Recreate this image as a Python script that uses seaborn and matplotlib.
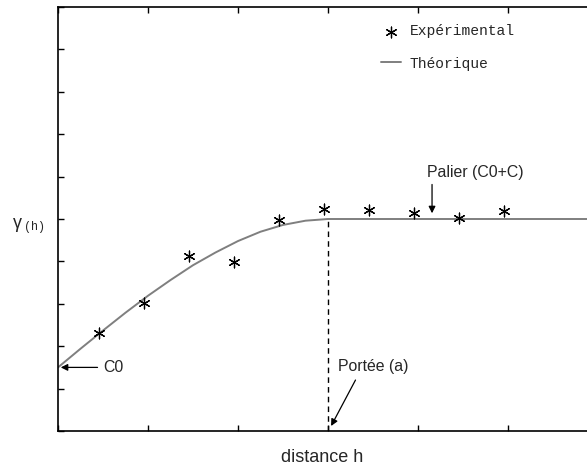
import numpy as np
import pandas as pd
import matplotlib
matplotlib.use("Agg")
import matplotlib.pyplot as plt
import seaborn as sns

# ==============================
# DATA
# ==============================
exp_h = [0.45, 0.95, 1.45, 1.95, 2.45, 2.95, 3.45, 3.95, 4.45, 4.95]
exp_gamma = [2.30, 3.03, 4.12, 3.98, 4.98, 5.24, 5.21, 5.14, 5.02, 5.19]

theo_h = [0.0, 0.25, 0.5, 0.75, 1.0, 1.25, 1.5, 1.75, 2.0, 2.25, 2.5, 2.75, 3.0, 6.0]
theo_gamma = [1.50, 1.94, 2.37, 2.79, 3.19, 3.56, 3.91, 4.21, 4.48, 4.70, 4.86, 4.96, 5.00, 5.00]

c0 = 1.5
sill = 5.0
range_a = 3.0

exp_df = pd.DataFrame({"h": exp_h, "gamma": exp_gamma})
theo_df = pd.DataFrame({"h": theo_h, "gamma": theo_gamma})

# ==============================
# STYLE
# ==============================
sns.set_style("white")
plt.rcParams["font.family"] = ["Liberation Sans", "DejaVu Sans"]
mono = ["Liberation Mono", "DejaVu Sans Mono"]

fig = plt.figure(figsize=(5.87, 4.66), dpi=100)
ax = fig.add_axes([58 / 587, 1 - 431 / 466, 1 - 58 / 587, 424 / 466])

# ==============================
# PLOT
# ==============================
sns.lineplot(data=theo_df, x="h", y="gamma", ax=ax, color="#7f7f7f",
             linewidth=1.4, label="Théorique")
sns.scatterplot(data=exp_df, x="h", y="gamma", ax=ax, marker=(6, 2, 0),
                s=60, color="black", linewidth=0.9, label="Expérimental",
                zorder=3)

# dashed vertical at the range
ax.plot([range_a, range_a], [0, sill], color="black", linestyle=(0, (4, 3)),
        linewidth=1.0)

ax.set_xlim(0, 529 / 90)
ax.set_ylim(0, 10)
ax.set_xticks(np.arange(0, 6, 1))
ax.set_yticks(np.arange(0, 11, 1))
ax.tick_params(which="both", direction="in", length=4, width=1, color="black",
               top=True, bottom=True, left=True, right=False,
               labelbottom=False, labelleft=False)
for side in ["left", "bottom", "top"]:
    ax.spines[side].set_color("black")
    ax.spines[side].set_linewidth(1.2)
ax.spines["right"].set_visible(False)

ax.set_xlabel("distance h", fontsize=13, labelpad=13)
ax.set_ylabel("")

# y label: gamma(h)
ax.text(-0.085, 0.49, "γ", transform=ax.transAxes, fontsize=13,
        ha="left", va="center")
ax.text(-0.064, 0.482, "(h)", transform=ax.transAxes, fontsize=8.5,
        family=mono, ha="left", va="center")

# legend
handles, labels = ax.get_legend_handles_labels()
leg = ax.legend(handles[::-1], labels[::-1], loc="upper left",
                bbox_to_anchor=(0.585, 0.99), frameon=False,
                prop={"family": mono, "size": 10.5},
                handlelength=1.4, handletextpad=0.6, labelspacing=1.25)

# annotations
fs = 11.4
arrow = dict(arrowstyle="-|>", color="black", lw=0.9, mutation_scale=10)
ax.annotate("", xy=(0, c0), xytext=(0.47, c0), arrowprops=arrow)
ax.text(0.5, c0, "C0", fontsize=fs, va="center", ha="left")

ax.annotate("", xy=(4.156, sill + 0.07), xytext=(4.156, 5.88), arrowprops=arrow)
ax.text(4.1, 5.92, "Palier (C0+C)", fontsize=fs, va="bottom", ha="left")

ax.annotate("", xy=(range_a + 0.02, 0.06), xytext=(3.32, 1.26), arrowprops=arrow)
ax.text(3.11, 1.52, "Portée (a)", fontsize=fs, va="center", ha="left")

fig.savefig("out.png", dpi=100)
